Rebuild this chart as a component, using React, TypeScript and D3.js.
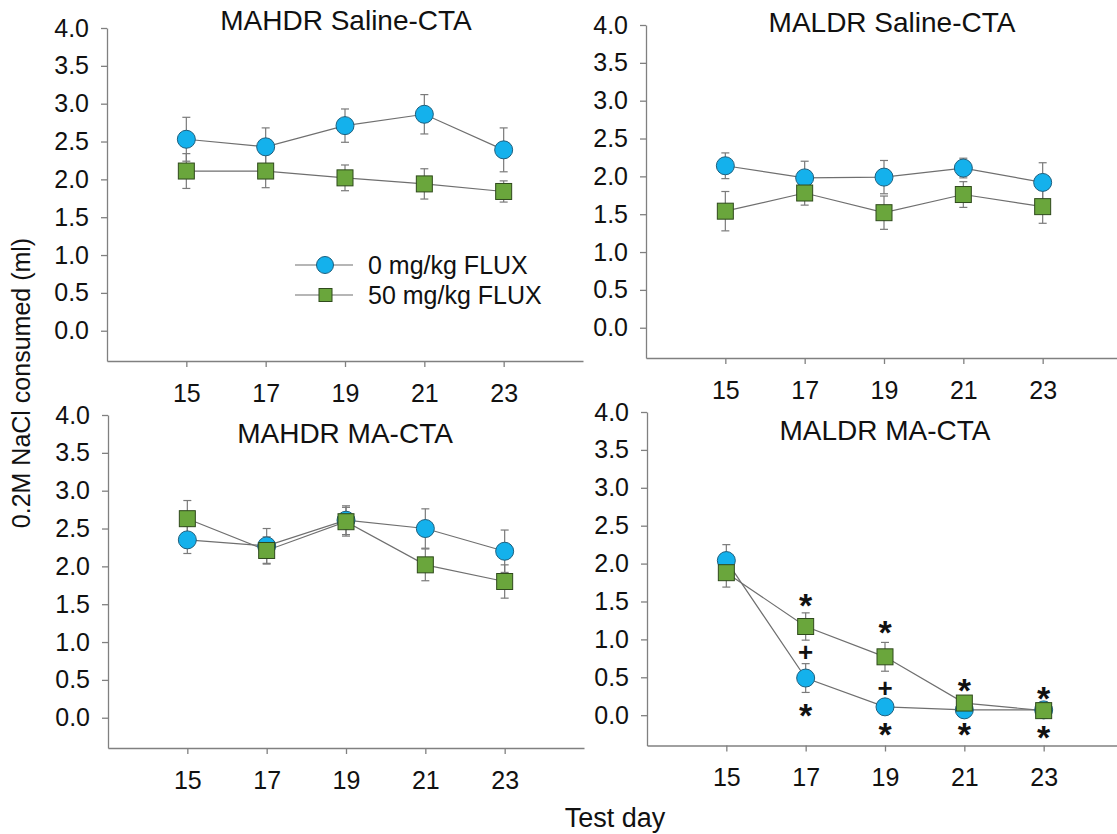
import React, { useEffect, useRef } from "react";
import * as d3 from "d3";

// ---------- data ----------
const days = [15, 17, 19, 21, 23];
const yTickValues = [0, 0.5, 1, 1.5, 2, 2.5, 3, 3.5, 4];
const seriesNames = ["0 mg/kg FLUX", "50 mg/kg FLUX"];
const panelTitles = ["MAHDR Saline-CTA", "MALDR Saline-CTA", "MAHDR MA-CTA", "MALDR MA-CTA"];
const yAxisTitle = "0.2M NaCl consumed (ml)";
const xAxisTitle = "Test day";

const mahdrSaline0 = [2.53, 2.43, 2.71, 2.86, 2.39];
const mahdrSaline0Err = [0.29, 0.25, 0.22, 0.26, 0.29];
const mahdrSaline50 = [2.11, 2.11, 2.02, 1.94, 1.84];
const mahdrSaline50Err = [0.23, 0.22, 0.17, 0.2, 0.14];

const maldrSaline0 = [2.14, 1.98, 1.99, 2.11, 1.92];
const maldrSaline0Err = [0.17, 0.22, 0.22, 0.13, 0.26];
const maldrSaline50 = [1.54, 1.78, 1.52, 1.76, 1.6];
const maldrSaline50Err = [0.26, 0.16, 0.22, 0.17, 0.22];

const mahdrMA0 = [2.35, 2.27, 2.61, 2.5, 2.2];
const mahdrMA0Err = [0.18, 0.23, 0.19, 0.26, 0.28];
const mahdrMA50 = [2.63, 2.21, 2.59, 2.02, 1.8];
const mahdrMA50Err = [0.24, 0.18, 0.19, 0.21, 0.22];

const maldrMA0 = [2.04, 0.49, 0.11, 0.07, 0.07];
const maldrMA0Err = [0.21, 0.19, 0.03, 0.03, 0.03];
const maldrMA50 = [1.88, 1.17, 0.77, 0.16, 0.06];
const maldrMA50Err = [0.19, 0.18, 0.19, 0.03, 0.03];

// significance marks in MALDR MA-CTA: day, symbol, y-level (ml)
const maldrMAMarkDays = [17, 17, 17, 19, 19, 19, 21, 21, 23, 23];
const maldrMAMarkSymbols = ["*", "+", "*", "*", "+", "*", "*", "*", "*", "*"];
const maldrMAMarkLevels = [1.54, 0.83, 0.095, 1.19, 0.36, -0.16, 0.43, -0.16, 0.32, -0.2];

const panelData = [
  { title: panelTitles[0], m: [mahdrSaline0, mahdrSaline50], e: [mahdrSaline0Err, mahdrSaline50Err], marks: false },
  { title: panelTitles[1], m: [maldrSaline0, maldrSaline50], e: [maldrSaline0Err, maldrSaline50Err], marks: false },
  { title: panelTitles[2], m: [mahdrMA0, mahdrMA50], e: [mahdrMA0Err, mahdrMA50Err], marks: false },
  { title: panelTitles[3], m: [maldrMA0, maldrMA50], e: [maldrMA0Err, maldrMA50Err], marks: true },
];

// ---------- layout ----------
const W = 1117;
const H = 834;
const FONT = "'Liberation Sans', Arial, sans-serif";
const layouts = [
  { x0: 107, x1: 583, yb: 361, yt: 28, tx: 346, ty: 30 },
  { x0: 646, x1: 1122, yb: 358, yt: 25, tx: 892, ty: 32 },
  { x0: 108, x1: 584, yb: 748, yt: 415, tx: 345, ty: 443 },
  { x0: 647, x1: 1123, yb: 745.5, yt: 412, tx: 885, ty: 440 },
];
const circleFill = "#14b1ec";
const circleStroke = "#1d5f7e";
const squareFill = "#6aa63c";
const squareStroke = "#2f4a1c";
const lineColor = "#6f6f6f";
const axisColor = "#808080";

export default function App() {
  const ref = useRef<SVGSVGElement | null>(null);

  useEffect(() => {
    const svg = d3.select(ref.current);
    svg.selectAll("*").remove();

    panelData.forEach((p, i) => {
      const L = layouts[i];
      const x = d3.scaleLinear().domain([13, 25]).range([L.x0, L.x1]);
      const y = d3.scaleLinear().domain([-0.4, 4]).range([L.yb, L.yt]);
      const g = svg.append("g");

      const ya = g
        .append("g")
        .attr("transform", `translate(${L.x0},0)`)
        .call(
          d3.axisLeft(y).tickValues(yTickValues).tickFormat(d3.format(".1f")).tickSize(6).tickPadding(12).tickSizeOuter(0)
        );
      const xa = g
        .append("g")
        .attr("transform", `translate(0,${L.yb})`)
        .call(d3.axisBottom(x).tickValues(days).tickFormat(d3.format("d")).tickSize(6).tickPadding(17).tickSizeOuter(0));
      [ya, xa].forEach((a) => {
        a.attr("font-family", FONT).attr("font-size", 25);
        a.select(".domain").attr("stroke", axisColor).attr("stroke-width", 1.3);
        a.selectAll(".tick line").attr("stroke", axisColor).attr("stroke-width", 1.3);
        a.selectAll(".tick text").attr("fill", "#111");
      });

      g.append("text")
        .attr("x", L.tx)
        .attr("y", L.ty)
        .attr("text-anchor", "middle")
        .attr("font-family", FONT)
        .attr("font-size", 28)
        .attr("fill", "#111")
        .text(p.title);

      // error bars
      p.m.forEach((vals, s) => {
        const errs = p.e[s];
        const eg = g.append("g").attr("stroke", "#7a7a7a").attr("stroke-width", 1.2);
        vals.forEach((v, k) => {
          const cx = x(days[k]);
          const yTop = y(v + errs[k]);
          const yBot = y(v - errs[k]);
          eg.append("line").attr("x1", cx).attr("x2", cx).attr("y1", yTop).attr("y2", yBot);
          eg.append("line").attr("x1", cx - 4).attr("x2", cx + 4).attr("y1", yTop).attr("y2", yTop);
          eg.append("line").attr("x1", cx - 4).attr("x2", cx + 4).attr("y1", yBot).attr("y2", yBot);
        });
      });

      // lines
      const line = d3
        .line<number>()
        .x((_, k) => x(days[k]))
        .y((v) => y(v));
      p.m.forEach((vals) => {
        g.append("path").attr("d", line(vals)).attr("fill", "none").attr("stroke", lineColor).attr("stroke-width", 1.2);
      });

      // markers
      g.append("g")
        .selectAll("circle")
        .data(p.m[0])
        .join("circle")
        .attr("cx", (_, k) => x(days[k]))
        .attr("cy", (v) => y(v))
        .attr("r", 9)
        .attr("fill", circleFill)
        .attr("stroke", circleStroke)
        .attr("stroke-width", 1);
      g.append("g")
        .selectAll("rect")
        .data(p.m[1])
        .join("rect")
        .attr("x", (_, k) => x(days[k]) - 8)
        .attr("y", (v) => y(v) - 8)
        .attr("width", 16)
        .attr("height", 16)
        .attr("fill", squareFill)
        .attr("stroke", squareStroke)
        .attr("stroke-width", 1);

      if (p.marks) {
        maldrMAMarkDays.forEach((d, k) => {
          const sym = maldrMAMarkSymbols[k];
          const lvl = y(maldrMAMarkLevels[k]);
          const fs = sym === "*" ? 34 : 26;
          const off = sym === "*" ? 0.56 * fs : 0.35 * fs;
          g.append("text")
            .attr("x", x(d))
            .attr("y", lvl + off)
            .attr("text-anchor", "middle")
            .attr("font-family", FONT)
            .attr("font-size", fs)
            .attr("font-weight", "bold")
            .attr("fill", "#111")
            .text(sym);
        });
      }

      if (i === 0) {
        const lg = g.append("g");
        const rows = [265, 295];
        rows.forEach((ry, s) => {
          lg.append("line").attr("x1", 295).attr("x2", 353).attr("y1", ry).attr("y2", ry).attr("stroke", lineColor).attr("stroke-width", 1.2);
          if (s === 0) {
            lg.append("circle").attr("cx", 325).attr("cy", ry).attr("r", 8.5).attr("fill", circleFill).attr("stroke", circleStroke);
          } else {
            lg.append("rect").attr("x", 319).attr("y", ry - 6.5).attr("width", 13).attr("height", 13).attr("fill", squareFill).attr("stroke", squareStroke);
          }
          lg.append("text")
            .attr("x", 368)
            .attr("y", ry)
            .attr("dy", "0.36em")
            .attr("font-family", FONT)
            .attr("font-size", 25)
            .attr("fill", "#111")
            .text(seriesNames[s]);
        });
      }
    });

    svg
      .append("text")
      .attr("transform", "translate(30,383) rotate(-90)")
      .attr("text-anchor", "middle")
      .attr("font-family", FONT)
      .attr("font-size", 25)
      .attr("fill", "#111")
      .text(yAxisTitle);

    svg
      .append("text")
      .attr("x", 615)
      .attr("y", 827)
      .attr("text-anchor", "middle")
      .attr("font-family", FONT)
      .attr("font-size", 27)
      .attr("fill", "#111")
      .text(xAxisTitle);
  }, []);

  return (
    <svg
      ref={ref}
      width={W}
      height={H}
      style={{ position: "absolute", left: 0, top: 0, background: "#fff" }}
    />
  );
}
